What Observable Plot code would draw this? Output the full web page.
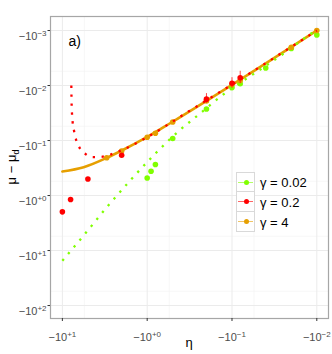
<!DOCTYPE html>
<html>
<head>
<meta charset="utf-8">
<script src="https://cdn.jsdelivr.net/npm/d3@7"></script>
<script src="https://cdn.jsdelivr.net/npm/@observablehq/plot@0.6"></script>
<style>
  body { margin: 0; background: #fff; font-family: "Liberation Sans", Arial, sans-serif; }
  #wrap { position: relative; width: 332px; height: 354px; }
  #legend { position: absolute; left: 236px; top: 172px; }
  .row { display: flex; align-items: center; height: 20px; }
  .key { position: relative; width: 19px; height: 20px; box-sizing: border-box; border: 1px solid #d9d9d9; background: #fff; }
  .row + .row .key { border-top: none; height: 20px; }
  .key .ln { position: absolute; left: 1px; right: 1px; top: 9px; height: 1.2px; opacity: 0.6; }
  .key .dt { position: absolute; left: 6.5px; top: 7px; width: 5px; height: 5px; border-radius: 50%; }
  .lab { margin-left: 5px; font-size: 13px; color: #000; white-space: nowrap; }
</style>
</head>
<body>
<div id="wrap"></div>
<script>
// ---------- data (axes show |η| and |μ − μd| on reversed log scales) ----------
const xTicks   = [10, 1, 0.1, 0.01];
const xTickExp = ["+1", "+0", "−1", "−2"];
const yTicks   = [0.001, 0.01, 0.1, 1, 10, 100];
const yTickExp = ["−3", "−2", "−1", "+0", "+1", "+2"];
const xMinor   = [5.5, 0.55, 0.055];
const yMinor   = [0.0055, 0.055, 0.55, 5.5, 55];

const seriesNames  = ["γ = 0.02", "γ = 0.2", "γ = 4"];
const seriesColors = ["#80FF00", "#FF0000", "#E69F00"];

// γ = 0.02 theory (dotted)
const greenLineEta = [10, 5.41, 2.96, 1.585, 0.828, 0.421, 0.244, 0.118, 0.0547, 0.0253, 0.012, 0.01];
const greenLineVal = [15.4, 4.97, 1.60, 0.533, 0.182, 0.0667, 0.0333, 0.0134, 0.00605, 0.0027, 0.00117, 0.00097];
// γ = 0.2 theory (dotted)
const redLineEta = [7.84, 7.78, 7.57, 7.28, 6.9, 6.26, 5.32, 4.36, 3.45, 2.78, 2.21, 1.80, 1.19, 0.312, 0.0357, 0.01];
const redLineVal = [0.01, 0.0215, 0.0457, 0.0667, 0.096, 0.136, 0.177, 0.201, 0.198, 0.182, 0.160, 0.140, 0.101, 0.0285, 0.00351, 0.001];
// γ = 4 theory (solid)
const orangeLineEta = [10, 5.61, 2.98, 1.99, 1.01, 0.513, 0.01];
const orangeLineVal = [0.366, 0.306, 0.206, 0.152, 0.087, 0.0465, 0.001];

// simulation points
const greenPtEta = [1, 0.9, 0.8, 0.5, 0.2, 0.1, 0.08, 0.04, 0.02, 0.01];
const greenPtVal = [0.481, 0.361, 0.273, 0.092, 0.0267, 0.0109, 0.0093, 0.0048, 0.00212, 0.0012];
const redPtEta = [10, 8, 5, 2, 0.2, 0.1, 0.08];
const redPtVal = [1.98, 1.18, 0.50, 0.185, 0.0177, 0.0091, 0.0072];
const redErrEta = [0.2, 0.1, 0.08];
const redErrLo  = [0.014, 0.0072, 0.0055];
const redErrHi  = [0.021, 0.0112, 0.0092];
const orangePtEta = [3, 2, 1, 0.8, 0.5, 0.2, 0.1, 0.08, 0.02, 0.01];
const orangePtVal = [0.206, 0.155, 0.087, 0.0736, 0.0461, 0.0191, 0.0096, 0.0081, 0.00201, 0.001];

// ---------- build tables ----------
const zip = (xs, ys) => xs.map((x, i) => ({x, y: ys[i]}));
const greenLine = zip(greenLineEta, greenLineVal);
const redLine = zip(redLineEta, redLineVal);
const orangeLine = zip(orangeLineEta, orangeLineVal);
const greenPts = zip(greenPtEta, greenPtVal);
const redPts = zip(redPtEta, redPtVal);
const orangePts = zip(orangePtEta, orangePtVal);
const redErr = redErrEta.map((x, i) => ({x, lo: redErrLo[i], hi: redErrHi[i]}));

const [cG, cR, cO] = seriesColors;
const dotted = {strokeWidth: 2.3, strokeDasharray: "2.3,6.6", strokeLinecap: "butt", curve: "monotone-x"};

const chart = Plot.plot({
  width: 332,
  height: 354,
  marginLeft: 50,
  marginRight: 4,
  marginTop: 16,
  marginBottom: 36,
  style: {fontFamily: "'Liberation Sans', Arial, sans-serif", fontSize: "11px", color: "#4d4d4d", background: "#fff", overflow: "visible"},
  x: {type: "log", domain: [13.8, 0.00728]},
  y: {type: "log", domain: [172, 5.56e-4]},
  marks: [
    Plot.gridX(xMinor, {stroke: "#f2f2f2", strokeOpacity: 1, strokeWidth: 0.6}),
    Plot.gridY(yMinor, {stroke: "#f2f2f2", strokeOpacity: 1, strokeWidth: 0.6}),
    Plot.gridX(xTicks, {stroke: "#ebebeb", strokeOpacity: 1, strokeWidth: 1}),
    Plot.gridY(yTicks, {stroke: "#ebebeb", strokeOpacity: 1, strokeWidth: 1}),
    Plot.line(orangeLine, {x: "x", y: "y", stroke: cO, strokeWidth: 2.6, curve: "monotone-x"}),
    Plot.line(greenLine, {x: "x", y: "y", stroke: cG, ...dotted}),
    Plot.dot(greenPts, {x: "x", y: "y", r: 2.8, fill: cG, stroke: "none"}),
    Plot.dot(orangePts, {x: "x", y: "y", r: 2.8, fill: cO, stroke: "none"}),
    Plot.line(redLine, {x: "x", y: "y", stroke: cR, ...dotted}),
    Plot.dot(redPts, {x: "x", y: "y", r: 2.8, fill: cR, stroke: "none"}),
    Plot.ruleX(redErr, {x: "x", y1: "lo", y2: "hi", stroke: cR, strokeWidth: 0.9, strokeOpacity: 0.8}),
    Plot.frame({stroke: "#a6a6a6", strokeWidth: 1.2}),
    Plot.axisX(xTicks, {tickSize: 3, tickPadding: 3, stroke: "#333", fill: "#4d4d4d",
      tickFormat: d => "−10^" + xTickExp[xTicks.indexOf(d)], label: null}),
    Plot.axisY(yTicks, {tickSize: 2.5, tickPadding: 1.5, stroke: "#333", fill: "#4d4d4d",
      tickFormat: d => "−10^" + yTickExp[yTicks.indexOf(d)], label: null}),
    Plot.text(["a)"], {frameAnchor: "top-left", dx: 18, dy: 20, fontSize: 14, fill: "#000"})
  ]
});

document.getElementById("wrap").appendChild(chart);

// superscripts on tick labels
const svg = d3.select(chart);
function sup(sel, dyMain) {
  sel.each(function () {
    const parts = this.textContent.split("^");
    if (parts.length < 2) return;
    const t = d3.select(this);
    t.text(null);
    if (dyMain) t.attr("dy", dyMain);
    t.append("tspan").text(parts[0]);
    t.append("tspan").attr("dy", "-4").attr("font-size", "8px").text(parts[1]);
  });
}
sup(svg.selectAll('g[aria-label="x-axis tick label"] text'), "0.82em");
sup(svg.selectAll('g[aria-label="y-axis tick label"] text'), "0.55em");

// axis titles
svg.append("text")
  .attr("x", 189).attr("y", 347)
  .attr("text-anchor", "middle")
  .attr("font-size", 13).attr("fill", "#000")
  .text("η");
const yl = svg.append("text")
  .attr("transform", "translate(16,167) rotate(-90)")
  .attr("text-anchor", "middle")
  .attr("font-size", 13).attr("fill", "#000");
yl.append("tspan").text("μ − μ");
yl.append("tspan").attr("dy", 3).attr("font-size", 9).text("d");

// legend
const leg = document.createElement("div");
leg.id = "legend";
seriesNames.forEach((name, i) => {
  const row = document.createElement("div");
  row.className = "row";
  const key = document.createElement("div");
  key.className = "key";
  const ln = document.createElement("div");
  ln.className = "ln"; ln.style.background = seriesColors[i];
  const dt = document.createElement("div");
  dt.className = "dt"; dt.style.background = seriesColors[i];
  key.appendChild(ln); key.appendChild(dt);
  const lab = document.createElement("span");
  lab.className = "lab"; lab.textContent = name;
  row.appendChild(key); row.appendChild(lab);
  leg.appendChild(row);
});
document.getElementById("wrap").appendChild(leg);
</script>
</body>
</html>
